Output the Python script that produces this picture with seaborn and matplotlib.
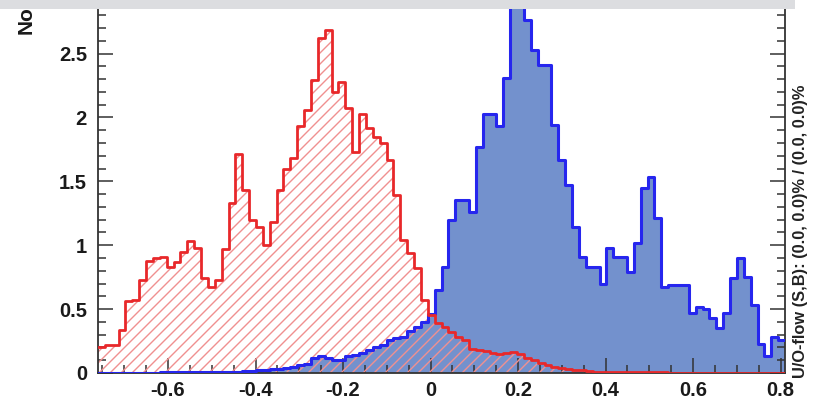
import numpy as np
import pandas as pd
import matplotlib
matplotlib.use("Agg")
import matplotlib.pyplot as plt
import seaborn as sns
from matplotlib.collections import LineCollection
from matplotlib.patches import Rectangle
from matplotlib.ticker import MultipleLocator

# Classifier response binning
x_min, x_max, n_bins = -0.76, 0.81, 100

# Normalised signal response per bin
signal = [
    0.0, 0.0, 0.0, 0.0, 0.0, 0.002, 0.002, 0.003, 0.003, 0.004,
    0.004, 0.005, 0.005, 0.006, 0.006, 0.007, 0.008, 0.009, 0.010, 0.010,
    0.01, 0.012, 0.015, 0.02, 0.02, 0.03, 0.03, 0.04, 0.05, 0.06,
    0.07, 0.12, 0.13, 0.12, 0.10, 0.10, 0.13, 0.14, 0.16, 0.18,
    0.20, 0.22, 0.26, 0.27, 0.28, 0.33, 0.36, 0.40,
    0.46, 0.65, 0.83, 1.20, 1.35, 1.35, 1.26, 1.77, 2.03, 2.03, 1.93, 2.31,
    3.05, 3.20, 2.76, 2.53, 2.41, 2.41, 1.94, 1.67, 1.47, 1.14, 0.91, 0.83, 0.83,
    0.70, 0.98, 0.91, 0.91, 0.79, 1.02, 1.45, 1.53, 1.21, 0.67, 0.69, 0.69, 0.69,
    0.47, 0.52, 0.50, 0.43, 0.35, 0.47, 0.74, 0.90, 0.75, 0.53, 0.23, 0.13, 0.28, 0.26,
]

# Normalised background response per bin
background = [
    0.20, 0.22, 0.22, 0.34, 0.56, 0.57, 0.73, 0.88, 0.90, 0.91,
    0.83, 0.87, 0.95, 1.03, 0.98, 0.74, 0.67, 0.73, 0.97, 1.33, 1.71,
    1.43, 1.20, 1.14, 1.00, 1.18, 1.43, 1.60, 1.68, 1.93, 2.06,
    2.29, 2.62, 2.68, 2.20, 2.28, 2.07, 1.73, 2.03, 1.92, 1.85,
    1.80, 1.67, 1.39, 1.04, 0.94, 0.82, 0.57, 0.45, 0.39, 0.36,
    0.32, 0.28, 0.26, 0.19, 0.18, 0.17, 0.155, 0.15, 0.16, 0.165,
    0.15, 0.12, 0.10, 0.08, 0.065, 0.05, 0.04, 0.03, 0.025, 0.02,
    0.015, 0.01, 0.01, 0.01, 0.008, 0.006, 0.005, 0.005, 0.005, 0.004,
    0.004, 0.004, 0.003, 0.003, 0.003, 0.003, 0.002, 0.002, 0.002, 0.002,
    0.002, 0.002, 0.002, 0.001, 0.001, 0.001, 0.001, 0.001, 0.001,
]

x_ticks = [-0.6, -0.4, -0.2, 0.0, 0.2, 0.4, 0.6, 0.8]
y_ticks = [0, 0.5, 1, 1.5, 2, 2.5]
flow_text = "U/O-flow (S,B): (0.0, 0.0)% / (0.0, 0.0)%"

SIG_FILL = "#7391cd"
SIG_LINE = "#2626ee"
BKG_LINE = "#e8282a"
BKG_HATCH = "#f09090"
AXIS_COL = "#333333"

plt.rcParams["font.family"] = ["Liberation Sans", "DejaVu Sans"]
plt.rcParams["font.weight"] = "bold"

edges = np.linspace(x_min, x_max, n_bins + 1)
centers = 0.5 * (edges[:-1] + edges[1:])
df = pd.DataFrame({"response": centers, "signal": signal, "background": background})
hist_kw = dict(data=df, x="response", bins=n_bins, binrange=(x_min, x_max), element="step")

W, H = 830, 403
fig = plt.figure(figsize=(W / 100, H / 100), dpi=100)
ax_l, ax_r, ax_b = 98, 785, 373
ax = fig.add_axes([ax_l / W, (H - ax_b) / H, (ax_r - ax_l) / W, ax_b / H])

# signal: filled histogram
sns.histplot(weights="signal", fill=True, color=SIG_FILL, alpha=1, linewidth=0,
             ax=ax, zorder=1, **hist_kw)

# background: invisible fill used as the clip region for the hatching
sns.histplot(weights="background", fill=True, color=BKG_LINE, alpha=0, linewidth=0,
             ax=ax, zorder=1, **hist_kw)
bkg_poly = ax.collections[-1]

# diagonal hatching at 45 degrees on screen, clipped to the background shape
ax_w, ax_h = ax_r - ax_l, ax_b
spacing = 11
segs = []
for c in np.arange(-ax_h, ax_w + spacing, spacing):
    segs.append([(c / ax_w, 0.0), ((c + ax_h) / ax_w, 1.0)])
hatch = LineCollection(segs, transform=ax.transAxes, colors=BKG_HATCH,
                       linewidths=1.0, zorder=2)
ax.add_collection(hatch, autolim=False)
hatch.set_clip_path(bkg_poly.get_paths()[0], bkg_poly.get_transform())

# outlines
sns.histplot(weights="signal", fill=False, color=SIG_LINE, linewidth=2.2,
             ax=ax, zorder=3, **hist_kw)
sns.histplot(weights="background", fill=False, color=BKG_LINE, linewidth=2.0,
             ax=ax, zorder=4, **hist_kw)

ax.set_xlim(x_min, x_max)
ax.set_ylim(0, ax_b / 127.8)
ax.set_xlabel("")
ax.set_ylabel("")
ax.set_xticks(x_ticks)
ax.set_xticklabels([f"{t:g}" for t in x_ticks])
ax.set_yticks(y_ticks)
ax.set_yticklabels([f"{t:g}" for t in y_ticks])
ax.xaxis.set_minor_locator(MultipleLocator(0.05))
ax.yaxis.set_minor_locator(MultipleLocator(0.1))
ax.tick_params(which="both", direction="in", right=True, top=False,
               color=AXIS_COL, width=1.1, labelcolor="#1a1a1a")
ax.tick_params(which="major", length=11, labelsize=14.5)
ax.tick_params(axis="y", which="major", pad=8)
ax.tick_params(axis="x", which="major", pad=6)
ax.tick_params(which="minor", length=6)
for side in ("left", "right", "bottom"):
    ax.spines[side].set_color(AXIS_COL)
    ax.spines[side].set_linewidth(1.3)
ax.spines["top"].set_visible(False)
ax.set_facecolor("white")

# y-axis title (runs up past the top edge) and overflow info
fig.text(26 / W, (H - 34) / H, "Normalized", rotation=90, ha="center", va="bottom",
         fontsize=15, color="#1a1a1a")
fig.text(800 / W, (H - 378) / H, flow_text, rotation=90, ha="center", va="bottom",
         fontsize=11.8, color="#222222")

# grey header strip across the top
fig.add_artist(Rectangle((0, (H - 9) / H), 795 / W, 9 / H, transform=fig.transFigure,
                         facecolor="#dcdde0", edgecolor="none", zorder=20))

fig.savefig("out.png", dpi=100, facecolor="white")
